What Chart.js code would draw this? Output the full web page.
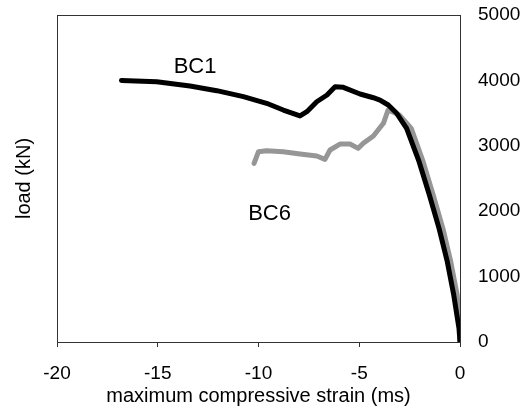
<!DOCTYPE html>
<html>
<head>
<meta charset="utf-8">
<script src="https://cdn.jsdelivr.net/npm/chart.js@4/dist/chart.umd.min.js"></script>
<style>
  html, body { margin: 0; padding: 0; background: #ffffff; }
  #c { display: block; }
</style>
</head>
<body>
<canvas id="c" width="529" height="412"></canvas>
<script>
// ---- data ----
const bc1Strain = [-16.8, -15.05, -13.4, -12.07, -10.75, -9.6, -8.77, -7.94, -7.6, -7.11, -6.6, -6.2, -5.79, -4.96, -4.3, -3.97, -3.56, -3.14, -2.65, -2.03, -1.52, -1.04, -0.63, -0.31, -0.05, 0];
const bc1Load   = [4000, 3980, 3914, 3843, 3751, 3650, 3547, 3456, 3521, 3674, 3777, 3903, 3894, 3792, 3735, 3700, 3624, 3497, 3267, 2757, 2248, 1738, 1228, 718, 209, 0];

const bc6Strain = [-10.22, -10.0, -9.6, -8.77, -7.94, -7.11, -6.7, -6.45, -5.96, -5.46, -5.05, -4.8, -4.3, -3.8, -3.57, -3.0, -2.42, -1.83, -1.33, -0.85, -0.46, -0.14, 0, 0];
const bc6Load   = [2732, 2910, 2925, 2910, 2875, 2844, 2793, 2936, 3027, 3027, 2961, 3038, 3150, 3344, 3547, 3470, 3267, 2757, 2248, 1738, 1228, 718, 250, 0];

const seriesNames = ['BC1', 'BC6'];
const xTickLabels = [-20, -15, -10, -5, 0];
const yTickLabels = [0, 1000, 2000, 3000, 4000, 5000];
const xTitle = 'maximum compressive strain (ms)';
const yTitle = 'load (kN)';

// ---- build ----
const toPoints = (xs, ys) => xs.map((x, i) => ({ x: x, y: ys[i] }));
const FONT = '"Liberation Sans", Arial, Helvetica, sans-serif';
const FRAME = '#333333';

// series label anchors (in data units)
const seriesLabelAnchors = { BC1: [-13.15, 4200], BC6: [-9.45, 1965] };

const seriesLabelPlugin = {
  id: 'seriesLabels',
  afterDatasetsDraw(chart) {
    const ctx = chart.ctx;
    const sx = chart.scales.x, sy = chart.scales.y;
    ctx.save();
    ctx.fillStyle = '#000';
    ctx.font = '22px ' + FONT;
    ctx.textAlign = 'center';
    ctx.textBaseline = 'middle';
    seriesNames.forEach(name => {
      const a = seriesLabelAnchors[name];
      ctx.fillText(name, sx.getPixelForValue(a[0]), sy.getPixelForValue(a[1]));
    });
    ctx.restore();
  }
};

const noPad = s => { s.paddingTop = 0; s.paddingBottom = 0; s.paddingLeft = 0; s.paddingRight = 0; };

new Chart(document.getElementById('c'), {
  type: 'line',
  data: {
    datasets: [
      {
        label: seriesNames[0],
        data: toPoints(bc1Strain, bc1Load),
        borderColor: '#000000',
        borderWidth: 5,
        pointRadius: 0,
        tension: 0,
        borderJoinStyle: 'round',
        borderCapStyle: 'round',
        xAxisID: 'x', yAxisID: 'y'
      },
      {
        label: seriesNames[1],
        data: toPoints(bc6Strain, bc6Load),
        borderColor: '#969696',
        borderWidth: 5,
        pointRadius: 0,
        tension: 0,
        borderJoinStyle: 'round',
        borderCapStyle: 'round',
        xAxisID: 'x', yAxisID: 'y'
      }
    ]
  },
  options: {
    responsive: false,
    animation: false,
    layout: { padding: 0 },
    plugins: { legend: { display: false }, tooltip: { enabled: false } },
    scales: {
      x: {
        type: 'linear', position: 'bottom',
        min: xTickLabels[0], max: xTickLabels[xTickLabels.length - 1],
        afterBuildTicks: s => { s.ticks = xTickLabels.map(v => ({ value: v })); },
        ticks: { color: '#000', font: { family: FONT, size: 19 }, padding: 15, maxRotation: 0,
                 callback: v => String(v) },
        grid: { drawOnChartArea: false, drawTicks: true, tickLength: 5, color: FRAME },
        border: { color: FRAME, width: 1 },
        title: { display: true, text: xTitle, color: '#000', font: { family: FONT, size: 20 }, padding: { top: 0, bottom: 4 } },
        afterFit: s => { s.height = 70; noPad(s); }
      },
      xTop: {
        type: 'linear', position: 'top',
        min: xTickLabels[0], max: xTickLabels[xTickLabels.length - 1],
        ticks: { display: false },
        grid: { display: false, drawTicks: false },
        border: { display: true, color: FRAME, width: 1 },
        afterFit: s => { s.height = 15; noPad(s); }
      },
      y: {
        type: 'linear', position: 'right',
        min: yTickLabels[0], max: yTickLabels[yTickLabels.length - 1],
        afterBuildTicks: s => { s.ticks = yTickLabels.map(v => ({ value: v })); },
        ticks: { color: '#000', font: { family: FONT, size: 19 }, padding: 18,
                 callback: v => String(v) },
        grid: { drawOnChartArea: false, drawTicks: false, color: FRAME },
        border: { color: FRAME, width: 1 },
        afterFit: s => { s.width = 69; noPad(s); }
      },
      yLeft: {
        type: 'linear', position: 'left',
        min: yTickLabels[0], max: yTickLabels[yTickLabels.length - 1],
        ticks: { display: false },
        grid: { display: false, drawTicks: false },
        border: { display: true, color: FRAME, width: 1 },
        title: { display: true, text: yTitle, color: '#000', font: { family: FONT, size: 20 }, padding: { top: 12, bottom: 0 } },
        afterFit: s => { s.width = 57; noPad(s); }
      }
    }
  },
  plugins: [seriesLabelPlugin]
});
</script>
</body>
</html>
